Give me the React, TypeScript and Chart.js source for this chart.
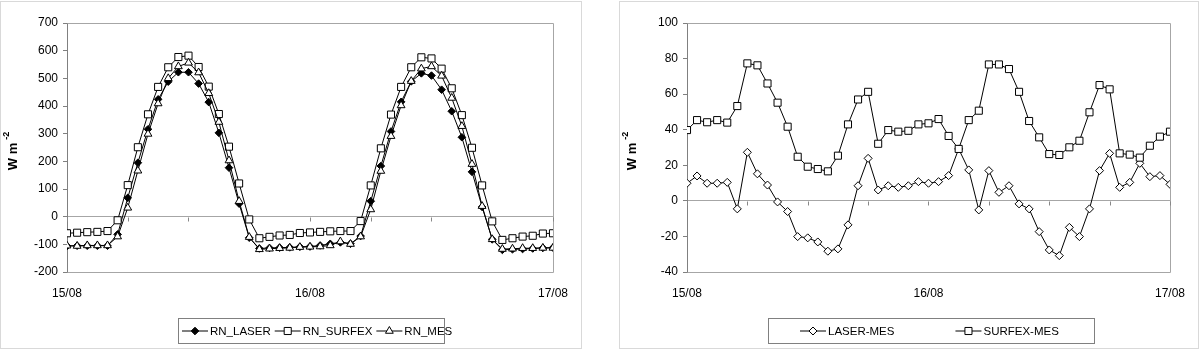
import React, { useEffect, useRef } from 'react';
import { Chart, registerables } from 'chart.js';

Chart.register(...registerables);

// ---------- data ----------
const DATE_LABELS = ['15/08', '16/08', '17/08'];
const HOURS_PER_LABEL = 24;
const MINOR_TICK_HOURS = 6;

const RN_LASER = [
  -106, -105, -105, -105, -105, -64, 68, 195, 316, 424, 488, 522, 522, 481, 414, 303, 177, 47, -76,
  -115, -113, -112, -111, -109, -108, -104, -98, -93, -98, -70, 56, 183, 308, 415, 489, 518, 510,
  459, 381, 287, 162, 35, -82, -120, -118, -117, -115, -113, -112,
];
const RN_SURFEX = [
  -60, -58, -56, -55, -52, -13, 114, 251, 370, 469, 540, 577, 582, 541, 470, 371, 253, 120, -10,
  -78, -73, -68, -66, -59, -57, -55, -53, -52, -52, -16, 113, 247, 369, 469, 540, 576, 572, 535,
  464, 367, 249, 113, -17, -84, -78, -72, -69, -61, -60,
];
const RN_MES = [
  -105, -106, -104, -104, -104, -72, 32, 166, 299, 409, 500, 543, 556, 521, 446, 342, 203, 56, -74,
  -118, -116, -114, -113, -110, -109, -108, -104, -90, -99, -72, 26, 165, 291, 402, 490, 535, 543,
  509, 429, 327, 190, 38, -82, -117, -116, -114, -114, -113, -113,
];

const LASER_MES = [
  9.9, 14, 9.9, 9.9, 10.4, -4.5, 27.3, 15.2, 8.9, -0.6, -6, -20.1, -20.8, -23.1, -28.3, -27, -13.5,
  8.5, 23.9, 6.1, 8.5, 7.6, 8.5, 10.8, 9.9, 10.8, 14.2, 29.2, 17.4, -5.1, 17, 4.8, 8.5, -1.7, -4.5,
  -17.3, -27.6, -30.8, -14.9, -20.1, -4.5, 17, 26.7, 7.6, 10.4, 21.1, 13.6, 14.2, 9.3,
];
const SURFEX_MES = [
  39.8, 45.4, 44.2, 45.4, 44, 53.3, 77.3, 76.2, 66, 55.2, 41.7, 24.8, 19.2, 17.9, 16.6, 25.4, 43, 57,
  61.3, 32.1, 39.8, 38.9, 39.4, 43, 43.6, 46, 36.5, 29.2, 45.4, 50.7, 76.7, 76.7, 74.1, 61.3, 44.9,
  35.7, 26.3, 25.8, 30.1, 33.8, 49.8, 65.1, 62.7, 26.7, 26, 24.3, 31, 36.1, 38.9,
];

const LEFT_Y = { min: -200, max: 700, step: 100 };
const RIGHT_Y = { min: -40, max: 100, step: 20 };

// ---------- helpers ----------
const FONT = "'Liberation Sans', Arial, sans-serif";
const toPoints = (arr: number[]) => arr.map((v, i) => ({ x: i, y: v }));

function drawMarker(ctx: CanvasRenderingContext2D, style: string, x: number, y: number, r: number, fill: string) {
  ctx.beginPath();
  if (style === 'rect') {
    const s = r * Math.SQRT1_2;
    ctx.rect(x - s, y - s, 2 * s, 2 * s);
  } else if (style === 'rectRot') {
    ctx.moveTo(x, y - r);
    ctx.lineTo(x + r, y);
    ctx.lineTo(x, y + r);
    ctx.lineTo(x - r, y);
    ctx.closePath();
  } else {
    ctx.moveTo(x, y - r);
    ctx.lineTo(x + 0.866 * r, y + 0.5 * r);
    ctx.lineTo(x - 0.866 * r, y + 0.5 * r);
    ctx.closePath();
  }
  ctx.fillStyle = fill;
  ctx.fill();
  ctx.stroke();
}

const framePlugin = {
  id: 'frame',
  beforeDatasetsDraw(chart: any) {
    const { ctx, chartArea: a, scales } = chart;
    ctx.save();
    ctx.lineWidth = 1;
    ctx.strokeStyle = '#a6a6a6';
    const L = Math.round(a.left) + 0.5;
    const R = Math.round(a.right) + 0.5;
    const T = Math.round(a.top) + 0.5;
    const B = Math.round(a.bottom) + 0.5;
    ctx.beginPath();
    ctx.moveTo(L, T);
    ctx.lineTo(R, T);
    ctx.lineTo(R, B);
    ctx.lineTo(L, B);
    ctx.stroke();
    // minor tick marks on the zero line
    const y0 = Math.round(scales.y.getPixelForValue(0)) + 0.5;
    ctx.strokeStyle = '#888';
    ctx.beginPath();
    for (let h = scales.x.min; h <= scales.x.max; h += MINOR_TICK_HOURS) {
      const x = Math.round(scales.x.getPixelForValue(h)) + 0.5;
      ctx.moveTo(x, y0);
      ctx.lineTo(x, y0 + 4);
    }
    ctx.stroke();
    ctx.restore();
  },
};

const yTitlePlugin = {
  id: 'ytitle',
  afterDraw(chart: any, _args: any, opts: any) {
    const { ctx } = chart;
    ctx.save();
    ctx.translate(opts.x, opts.y);
    ctx.rotate(-Math.PI / 2);
    ctx.fillStyle = '#000';
    ctx.textBaseline = 'middle';
    ctx.textAlign = 'left';
    ctx.font = `bold 13px ${FONT}`;
    const main = 'W m';
    const mw = ctx.measureText(main).width;
    ctx.font = `bold 9px ${FONT}`;
    const sup = '-2';
    const sw = ctx.measureText(sup).width;
    const total = mw + 3 + sw;
    const start = -total / 2;
    ctx.font = `bold 13px ${FONT}`;
    ctx.fillText(main, start, 0);
    ctx.font = `bold 9px ${FONT}`;
    ctx.fillText(sup, start + mw + 3, -6);
    ctx.restore();
  },
};

const legendPlugin = {
  id: 'boxlegend',
  afterDraw(chart: any, _args: any, opts: any) {
    const { ctx } = chart;
    const { box, start, gap } = opts;
    ctx.save();
    ctx.lineWidth = 1;
    ctx.strokeStyle = '#808080';
    ctx.strokeRect(box.left + 0.5, box.top + 0.5, box.width, box.height);
    const yMid = box.top + box.height / 2 + 0.5;
    ctx.font = `11.5px ${FONT}`;
    ctx.textBaseline = 'middle';
    ctx.textAlign = 'left';
    let x = start;
    const items = [...chart.data.datasets].sort((p: any, q: any) => p.legendIndex - q.legendIndex);
    for (const ds of items) {
      ctx.strokeStyle = '#000';
      ctx.beginPath();
      ctx.moveTo(x, yMid);
      ctx.lineTo(x + 26, yMid);
      ctx.stroke();
      drawMarker(ctx, ds.pointStyle, x + 13, yMid, ds.pointRadius, ds.pointBackgroundColor);
      ctx.fillStyle = '#000';
      ctx.fillText(ds.label, x + 28, yMid + 0.5);
      x += 28 + ctx.measureText(ds.label).width + gap;
    }
    ctx.restore();
  },
};

function makeConfig(
  datasets: any[],
  yRange: { min: number; max: number; step: number },
  area: { left: number; top: number; right: number; bottom: number },
  canvasW: number,
  legend: any,
): any {
  const xAxisH = 30;
  return {
    type: 'line',
    data: { datasets },
    plugins: [framePlugin, yTitlePlugin, legendPlugin],
    options: {
      responsive: false,
      animation: false,
      events: [],
      layout: {
        autoPadding: false,
        padding: { left: 0, top: area.top, right: canvasW - area.right, bottom: 350 - area.bottom - xAxisH },
      },
      plugins: {
        legend: { display: false },
        tooltip: { enabled: false },
        ytitle: { x: 13, y: 151 },
        boxlegend: legend,
      },
      scales: {
        x: {
          type: 'linear',
          min: 0,
          max: (DATE_LABELS.length - 1) * HOURS_PER_LABEL,
          afterFit: (s: any) => {
            s.height = xAxisH;
          },
          grid: { display: false, drawTicks: false },
          border: { display: false },
          ticks: {
            stepSize: HOURS_PER_LABEL,
            padding: 14,
            color: '#000',
            font: { family: FONT, size: 12 },
            maxRotation: 0,
            autoSkip: false,
            callback: (v: number) => DATE_LABELS[Math.round(v / HOURS_PER_LABEL)] ?? '',
          },
        },
        y: {
          min: yRange.min,
          max: yRange.max,
          afterFit: (s: any) => {
            s.width = area.left;
          },
          grid: {
            color: (c: any) => (c.tick && c.tick.value === 0 ? '#a6a6a6' : 'rgba(0,0,0,0)'),
            tickColor: '#808080',
            tickLength: 4,
          },
          border: { display: true, color: '#808080' },
          ticks: {
            stepSize: yRange.step,
            padding: 5,
            color: '#000',
            font: { family: FONT, size: 12 },
          },
        },
      },
    },
  };
}

function line(label: string, values: number[], style: string, radius: number, fill: string, order: number, legendIndex: number) {
  return {
    label,
    data: toPoints(values),
    borderColor: '#000',
    borderWidth: 1,
    pointStyle: style,
    pointRadius: radius,
    pointBorderWidth: 1,
    pointBorderColor: '#000',
    pointBackgroundColor: fill,
    backgroundColor: fill,
    tension: 0,
    fill: false,
    order,
    legendIndex,
  };
}

function ChartCanvas({ build, left, width }: { build: () => any; left: number; width: number }) {
  const ref = useRef<HTMLCanvasElement | null>(null);
  useEffect(() => {
    const chart = new Chart(ref.current as HTMLCanvasElement, build());
    return () => chart.destroy();
  }, []);
  return (
    <canvas
      ref={ref}
      width={width}
      height={350}
      style={{ position: 'absolute', left, top: 0, width, height: 350 }}
    />
  );
}

const LEFT_W = 582;
const RIGHT_X = 619;
const RIGHT_W = 580;

const buildLeft = () =>
  makeConfig(
    [
      line('RN_LASER', RN_LASER, 'rectRot', 3.8, '#000', 2, 0),
      line('RN_SURFEX', RN_SURFEX, 'rect', 5, '#fff', 1, 1),
      line('RN_MES', RN_MES, 'triangle', 4.5, '#fff', 0, 2),
    ],
    LEFT_Y,
    { left: 67, top: 23, right: 556, bottom: 272 },
    LEFT_W,
    { box: { left: 178, top: 318, width: 266, height: 25 }, start: 182, gap: 4 },
  );

const buildRight = () =>
  makeConfig(
    [
      line('LASER-MES', LASER_MES, 'rectRot', 4, '#fff', 1, 0),
      line('SURFEX-MES', SURFEX_MES, 'rect', 5, '#fff', 0, 1),
    ],
    RIGHT_Y,
    { left: 68, top: 23, right: 553, bottom: 272 },
    RIGHT_W,
    { box: { left: 149, top: 318, width: 326, height: 25 }, start: 181, gap: 61 },
  );

export default function App() {
  return (
    <div style={{ position: 'absolute', left: 0, top: 0, width: 1200, height: 350, background: '#fff', overflow: 'hidden' }}>
      <div style={{ position: 'absolute', left: 0, top: 1, width: LEFT_W, height: 348, boxSizing: 'border-box', border: '1px solid #d9d9d9' }} />
      <div style={{ position: 'absolute', left: RIGHT_X, top: 1, width: RIGHT_W, height: 348, boxSizing: 'border-box', border: '1px solid #d9d9d9' }} />
      <ChartCanvas build={buildLeft} left={0} width={LEFT_W} />
      <ChartCanvas build={buildRight} left={RIGHT_X} width={RIGHT_W} />
    </div>
  );
}
